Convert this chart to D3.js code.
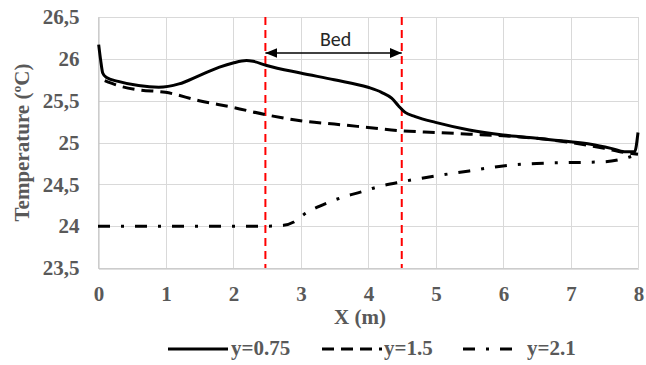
<!DOCTYPE html>
<html>
<head>
<meta charset="utf-8">
<script src="https://cdn.jsdelivr.net/npm/d3@7"></script>
<style>
  html, body { margin: 0; padding: 0; background: #fff; }
  svg { display: block; }
</style>
</head>
<body>
<svg id="chart" width="646" height="365"></svg>
<script>
// Temperature profiles along the room length at three heights
const xTicks = [0, 1, 2, 3, 4, 5, 6, 7, 8];
const yTicks = [23.5, 24, 24.5, 25, 25.5, 26, 26.5];
const yTickLabels = ["23,5", "24", "24,5", "25", "25,5", "26", "26,5"];

const seriesNames = ["y=0.75", "y=1.5", "y=2.1"];

const xA = [0.01, 0.04, 0.07, 0.12, 0.3, 0.6, 0.9, 1.2, 1.5, 1.8, 2.0, 2.2, 2.3, 2.5, 3.0, 3.5, 4.0, 4.2, 4.35, 4.45, 4.55, 4.7, 5.0, 5.5, 6.0, 6.5, 7.0, 7.3, 7.6, 7.8, 7.95, 8.0];
const tA = [26.17, 25.98, 25.83, 25.78, 25.73, 25.68, 25.66, 25.7, 25.8, 25.9, 25.95, 25.98, 25.97, 25.92, 25.83, 25.75, 25.66, 25.6, 25.53, 25.44, 25.36, 25.31, 25.24, 25.15, 25.09, 25.05, 25.01, 24.98, 24.93, 24.89, 24.89, 25.12];

const xB = [0.1, 0.3, 0.6, 1.0, 1.5, 2.0, 2.5, 3.0, 3.5, 4.0, 4.5, 5.0, 5.5, 6.0, 6.5, 7.0, 7.5, 7.8, 8.0];
const tB = [25.74, 25.68, 25.63, 25.6, 25.5, 25.42, 25.33, 25.26, 25.22, 25.18, 25.14, 25.12, 25.1, 25.08, 25.05, 25.0, 24.93, 24.88, 24.86];

const xC = [0.0, 0.5, 1.0, 1.5, 2.0, 2.5, 2.75, 2.9, 3.05, 3.4, 3.6, 3.9, 4.1, 4.5, 5.0, 5.5, 6.0, 6.5, 7.0, 7.5, 7.8, 8.0];
const tC = [24.0, 24.0, 24.0, 24.0, 24.0, 24.0, 24.01, 24.05, 24.14, 24.28, 24.34, 24.41, 24.46, 24.53, 24.6, 24.66, 24.72, 24.75, 24.76, 24.77, 24.81, 24.86];

// Bed extent along X (m)
const bedStart = 2.48;
const bedEnd = 4.5;

const svg = d3.select("#chart");
const m = { left: 98, right: 638, top: 17, bottom: 268 };

const x = d3.scaleLinear().domain([0, 8]).range([m.left, m.right]);
const y = d3.scaleLinear().domain([23.5, 26.5]).range([m.bottom, m.top]);

const serif = "'Liberation Serif', 'Times New Roman', serif";
const textGrey = "#595959";
const fs = 21;

// grid
const grid = svg.append("g");
grid.selectAll("line.h").data(yTicks).join("line")
  .attr("x1", m.left).attr("x2", m.right)
  .attr("y1", d => Math.round(y(d)) + 0.5).attr("y2", d => Math.round(y(d)) + 0.5)
  .attr("stroke", "#d9d9d9").attr("stroke-width", 1);
grid.selectAll("line.v").data(xTicks).join("line")
  .attr("y1", m.top).attr("y2", m.bottom)
  .attr("x1", d => Math.round(x(d)) + 0.5).attr("x2", d => Math.round(x(d)) + 0.5)
  .attr("stroke", "#d9d9d9").attr("stroke-width", 1);

// axes
const xAxis = d3.axisBottom(x).tickValues(xTicks).tickSize(0).tickPadding(18).tickFormat(d3.format("d"));
const yAxis = d3.axisLeft(y).tickValues(yTicks).tickSize(0).tickPadding(19)
  .tickFormat((d, i) => yTickLabels[i]);

const gx = svg.append("g").attr("transform", `translate(0.5,${Math.round(m.bottom) + 0.5})`).call(xAxis);
const gy = svg.append("g").attr("transform", `translate(${m.left + 0.5},0)`).call(yAxis);
[gx, gy].forEach(g => {
  g.select(".domain").attr("stroke", "#bfbfbf");
  g.selectAll("text").attr("font-family", serif).attr("font-weight", "bold")
    .attr("font-size", fs).attr("fill", textGrey);
});

// bed markers
const bed = svg.append("g");
[bedStart, bedEnd].forEach(v => {
  bed.append("line")
    .attr("x1", x(v)).attr("x2", x(v)).attr("y1", m.top).attr("y2", m.bottom)
    .attr("stroke", "#ff0000").attr("stroke-width", 2).attr("stroke-dasharray", "8,5");
});

const defs = svg.append("defs");
["start", "end"].forEach(k => {
  defs.append("marker").attr("id", "arrow-" + k)
    .attr("viewBox", "0 0 12 10").attr("refX", 12).attr("refY", 5)
    .attr("markerWidth", 12).attr("markerHeight", 10).attr("markerUnits", "userSpaceOnUse")
    .attr("orient", k === "start" ? "auto-start-reverse" : "auto")
    .append("path").attr("d", "M0,0 L12,5 L0,10 Z").attr("fill", "#000");
});
const arrowY = 53;
bed.append("line")
  .attr("x1", x(bedStart)).attr("x2", x(bedEnd)).attr("y1", arrowY).attr("y2", arrowY)
  .attr("stroke", "#000").attr("stroke-width", 1.5)
  .attr("marker-start", "url(#arrow-start)").attr("marker-end", "url(#arrow-end)");
bed.append("text")
  .attr("x", (x(bedStart) + x(bedEnd)) / 2 + 2).attr("y", 46)
  .attr("text-anchor", "middle")
  .attr("font-family", "Carlito, 'Open Sans', 'DejaVu Sans', sans-serif")
  .attr("font-size", 20).attr("fill", "#262626").text("Bed");

// series
const line = d3.line().x(d => x(d[0])).y(d => y(d[1])).curve(d3.curveMonotoneX);
const styles = [
  { dash: null, width: 3 },
  { dash: "12,7", width: 3 },
  { dash: "12,11,3,11", width: 3 }
];
const data = [
  d3.zip(xA, tA),
  d3.zip(xB, tB),
  d3.zip(xC, tC)
];
const lines = svg.append("g");
data.forEach((pts, i) => {
  lines.append("path").datum(pts)
    .attr("d", line)
    .attr("fill", "none").attr("stroke", "#000")
    .attr("stroke-width", styles[i].width)
    .attr("stroke-dasharray", styles[i].dash);
});

// axis titles
svg.append("text")
  .attr("x", 360).attr("y", 324)
  .attr("text-anchor", "middle")
  .attr("font-family", serif).attr("font-weight", "bold").attr("font-size", fs)
  .attr("fill", textGrey).text("X (m)");
svg.append("text")
  .attr("transform", `translate(29,${(m.top + m.bottom) / 2}) rotate(-90)`)
  .attr("text-anchor", "middle")
  .attr("font-family", serif).attr("font-weight", "bold").attr("font-size", fs)
  .attr("fill", textGrey).text("Temperature (ºC)");

// legend
const legendItems = [
  { x1: 168, x2: 228, tx: 231 },
  { x1: 322, x2: 382, tx: 384 },
  { x1: 463, x2: 513, tx: 527 }
];
const legend = svg.append("g");
legendItems.forEach((it, i) => {
  legend.append("line")
    .attr("x1", it.x1).attr("x2", it.x2).attr("y1", 349).attr("y2", 349)
    .attr("stroke", "#000").attr("stroke-width", 3)
    .attr("stroke-dasharray", styles[i].dash);
  legend.append("text")
    .attr("x", it.tx).attr("y", 355)
    .attr("font-family", serif).attr("font-weight", "bold").attr("font-size", fs)
    .attr("fill", textGrey).text(seriesNames[i]);
});
</script>
</body>
</html>
